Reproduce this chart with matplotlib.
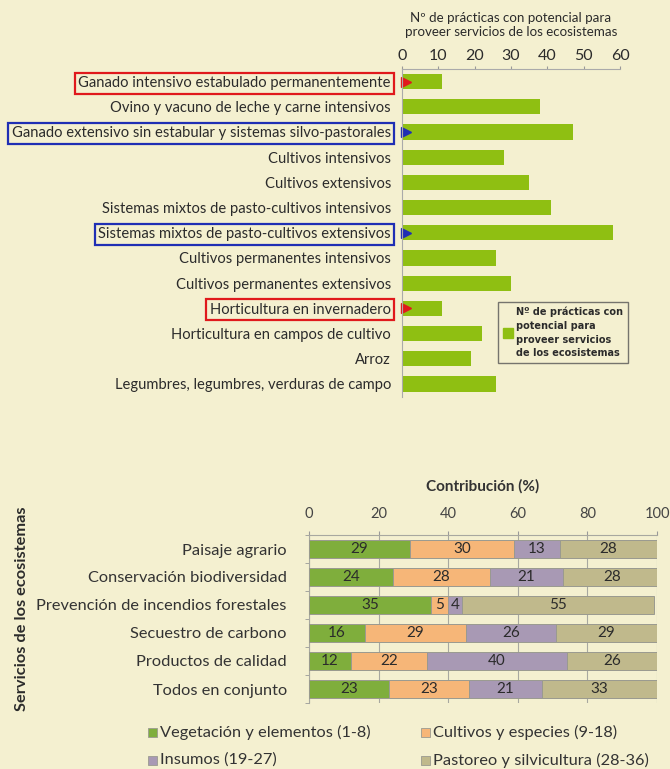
import matplotlib.pyplot as plt
from matplotlib.patches import Rectangle

# datos: prácticas con potencial por sistema agrario
sistemas = [
    "Ganado intensivo estabulado permanentemente",
    "Ovino y vacuno de leche y carne intensivos",
    "Ganado extensivo sin estabular y sistemas silvo-pastorales",
    "Cultivos intensivos",
    "Cultivos extensivos",
    "Sistemas mixtos de pasto-cultivos intensivos",
    "Sistemas mixtos de pasto-cultivos extensivos",
    "Cultivos permanentes intensivos",
    "Cultivos permanentes extensivos",
    "Horticultura en invernadero",
    "Horticultura en campos de cultivo",
    "Arroz",
    "Legumbres, legumbres, verduras de campo",
]
n_practicas = [11, 38, 47, 28, 35, 41, 58, 26, 30, 11, 22, 19, 26]
destacados_rojo = [0, 9]
destacados_azul = [2, 6]

# datos: contribución (%) por servicio
servicios = [
    "Paisaje agrario",
    "Conservación biodiversidad",
    "Prevención de incendios forestales",
    "Secuestro de carbono",
    "Productos de calidad",
    "Todos en conjunto",
]
grupos = [
    "Vegetación y elementos (1-8)",
    "Cultivos y especies (9-18)",
    "Insumos (19-27)",
    "Pastoreo y silvicultura (28-36)",
]
vegetacion = [29, 24, 35, 16, 12, 23]
cultivos = [30, 28, 5, 29, 22, 23]
insumos = [13, 21, 4, 26, 40, 21]
pastoreo = [28, 28, 55, 29, 26, 33]

BG = "#f4f0d0"
GREEN_TOP = "#8fbf12"
colores = ["#7fae3c", "#f6b678", "#a899b4", "#c0b98c"]
TXT = "#2b2b2b"
FONT = ["Lato", "DejaVu Sans"]

fig = plt.figure(figsize=(6.7, 7.69), dpi=100, facecolor=BG)

# ---------- gráfico superior ----------
ax1 = fig.add_axes([402 / 670, 1 - 396.6 / 769, 218 / 670, 327.6 / 769])
ax1.set_facecolor(BG)
y1 = list(range(len(sistemas)))
ax1.barh(y1, n_practicas, height=0.6, color=GREEN_TOP)
ax1.set_xlim(0, 60)
ax1.set_ylim(len(sistemas) - 0.5, -0.5)
ax1.xaxis.tick_top()
ax1.set_xticks(range(0, 61, 10))
ax1.tick_params(axis="x", length=2, color="#999999", pad=2, labelsize=11.5, labelcolor=TXT)
for lbl in ax1.get_xticklabels():
    lbl.set_family(FONT)
ax1.set_yticks(y1)
ax1.set_yticklabels(sistemas, family=FONT, fontsize=10.6, color=TXT)
ax1.tick_params(axis="y", length=0, pad=8)
for s in ["right", "bottom"]:
    ax1.spines[s].set_visible(False)
for s in ["left", "top"]:
    ax1.spines[s].set_color("#aaaaaa")
    ax1.spines[s].set_linewidth(0.8)
fig.text(511 / 670, 1 - 25.5 / 769,
         "Nº de prácticas con potencial para\nproveer servicios de los ecosistemas",
         ha="center", va="center", family=FONT, fontsize=9.6, color=TXT, linespacing=1.2)

labels = ax1.get_yticklabels()
for i in destacados_rojo:
    labels[i].set_bbox(dict(facecolor="none", edgecolor="#e0191c", lw=1.6, pad=2.5))
    ax1.plot(1.0, i, marker=">", color="#e0191c", ms=7, clip_on=False)
for i in destacados_azul:
    labels[i].set_bbox(dict(facecolor="none", edgecolor="#1f2fb4", lw=1.6, pad=2.5))
    ax1.plot(1.0, i, marker=">", color="#1f2fb4", ms=7, clip_on=False)

leg1 = ax1.legend([Rectangle((0, 0), 1, 1, color=GREEN_TOP)],
                  ["Nº de prácticas con\npotencial para\nproveer servicios\nde los ecosistemas"],
                  loc="upper left", bbox_to_anchor=(498 / 670, 1 - 302 / 769),
                  bbox_transform=fig.transFigure, borderaxespad=0, fancybox=False,
                  frameon=True, handlelength=1.0, handleheight=1.2, handletextpad=0.4,
                  borderpad=0.5, prop=dict(size=7, weight="bold"))
leg1.get_frame().set_edgecolor("#555555")
leg1.get_frame().set_facecolor(BG)
leg1.get_frame().set_linewidth(1.0)
for t in leg1.get_texts():
    t.set_color(TXT)
    t.set_linespacing(1.45)
leg1.set_alignment("left")

# ---------- gráfico inferior ----------
ax2 = fig.add_axes([309 / 670, 1 - 703 / 769, 348 / 670, 168 / 769])
ax2.set_facecolor(BG)
y2 = list(range(len(servicios)))
series = [vegetacion, cultivos, insumos, pastoreo]
left = [0] * len(servicios)
for vals, col in zip(series, colores):
    ax2.barh(y2, vals, left=left, height=0.62, color=col, edgecolor="#9a9a90", lw=0.7, zorder=3)
    for j, v in enumerate(vals):
        ax2.text(left[j] + v / 2, j, str(v), ha="center", va="center",
                 family=FONT, fontsize=11, color=TXT, zorder=4)
    left = [a + b for a, b in zip(left, vals)]
ax2.set_xlim(0, 100)
ax2.set_ylim(len(servicios) - 0.5, -0.5)
ax2.xaxis.tick_top()
ax2.set_xticks(range(0, 101, 20))
ax2.tick_params(axis="x", length=3, color="#999999", pad=7, labelsize=10.5, labelcolor="#444444")
for lbl in ax2.get_xticklabels():
    lbl.set_family(FONT)
ax2.grid(axis="x", color="#a8a8a0", lw=0.8, zorder=0)
ax2.set_yticks(y2)
ax2.set_yticklabels(servicios, family=FONT, fontsize=11.8, color="#333333")
ax2.set_yticks([k + 0.5 for k in range(-1, len(servicios))], minor=True)
ax2.tick_params(axis="y", which="major", length=0, pad=16)
ax2.tick_params(axis="y", which="minor", length=3, color="#999999")
for s in ["right", "bottom"]:
    ax2.spines[s].set_visible(False)
for s in ["left", "top"]:
    ax2.spines[s].set_color("#a8a8a0")
    ax2.spines[s].set_linewidth(0.8)
fig.text(483 / 670, 1 - 486 / 769, "Contribución (%)", ha="center", va="center",
         family=FONT, fontsize=11, weight="bold", color="#333333")

fig.text(22 / 670, 1 - 609 / 769, "Servicios de los ecosistemas", rotation=90,
         ha="center", va="center", family=FONT, fontsize=11.8, weight="bold", color=TXT)

# leyenda inferior
pos_leg = [(148, 732), (421, 732), (148, 760), (421, 760)]
for (px, py), nombre, col in zip(pos_leg, grupos, colores):
    fig.add_artist(Rectangle((px / 670, 1 - (py + 5) / 769), 9 / 670, 9 / 769,
                             transform=fig.transFigure, facecolor=col,
                             edgecolor="#9a9a90", lw=0.6))
    fig.text((px + 12) / 670, 1 - py / 769, nombre, ha="left", va="center",
             family=FONT, fontsize=11.8, color="#333333")

fig.savefig("out.png", dpi=100, facecolor=BG)
